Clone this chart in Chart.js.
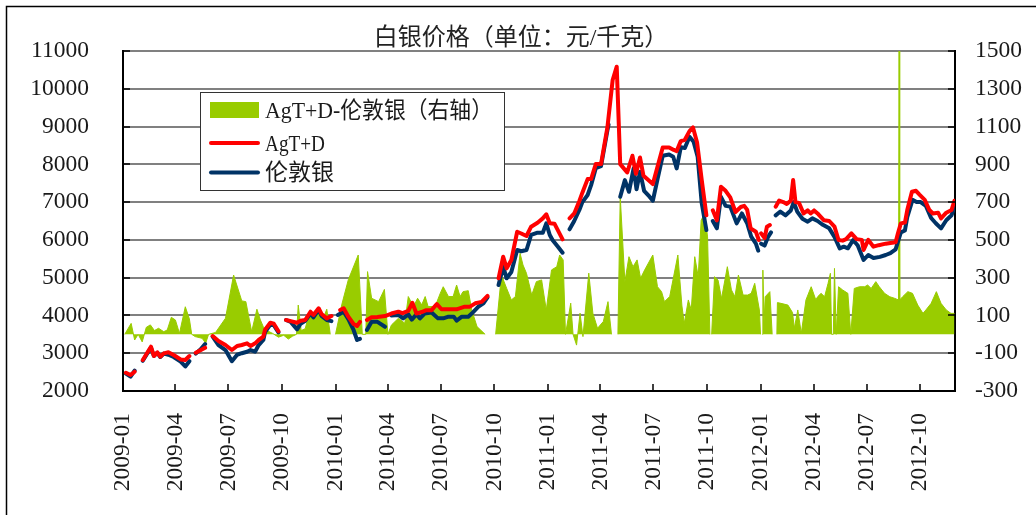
<!DOCTYPE html>
<html><head><meta charset="utf-8">
<script src="https://cdn.jsdelivr.net/npm/chart.js@4.4.1/dist/chart.umd.min.js"></script>
<style>html,body{margin:0;padding:0;background:#fff;}canvas{display:block;}</style>
</head><body>
<canvas id="c" width="1036" height="515"></canvas>
<script>
// ---------- DATA ----------
const chartTitle = '白银价格（单位：元/千克）';
const seriesNames = ['AgT+D-伦敦银（右轴）', 'AgT+D', '伦敦银'];
const xTickLabels = ['2009-01','2009-04','2009-07','2009-10','2010-01','2010-04','2010-07','2010-10',
  '2011-01','2011-04','2011-07','2011-10','2012-01','2012-04','2012-07','2012-10'];
const xStartDate = '2009-01-01';
const xEndDate = '2012-11-30';
const leftTicks = [2000,3000,4000,5000,6000,7000,8000,9000,10000,11000];
const rightTicks = [-300,-100,100,300,500,700,900,1100,1300,1500];

const agtdDates = ['2009-01-06','2009-01-14','2009-01-21','2009-01-28','2009-02-04','2009-02-18','2009-02-23','2009-03-01','2009-03-06','2009-03-12','2009-03-20','2009-03-29','2009-04-10','2009-04-18','2009-04-25','2009-05-01','2009-05-06','2009-05-14','2009-05-22','2009-05-28','2009-06-04','2009-06-14','2009-06-26','2009-07-07','2009-07-16','2009-07-24','2009-08-02','2009-08-08','2009-08-16','2009-08-22','2009-08-30','2009-09-02','2009-09-11','2009-09-17','2009-09-25','2009-10-01','2009-10-08','2009-10-16','2009-10-27','2009-11-02','2009-11-10','2009-11-19','2009-11-24','2009-12-03','2009-12-08','2009-12-17','2009-12-25','2009-12-31','2010-01-09','2010-01-15','2010-01-23','2010-02-01','2010-02-07','2010-02-12','2010-02-18','2010-02-24','2010-03-04','2010-03-14','2010-03-27','2010-04-07','2010-04-19','2010-04-26','2010-05-06','2010-05-13','2010-05-20','2010-05-29','2010-06-06','2010-06-15','2010-06-24','2010-07-02','2010-07-14','2010-07-28','2010-08-11','2010-08-20','2010-08-29','2010-09-09','2010-09-19','2010-09-30','2010-10-08','2010-10-16','2010-10-22','2010-10-30','2010-11-09','2010-11-16','2010-11-25','2010-12-03','2010-12-14','2010-12-23','2010-12-29','2011-01-04','2011-01-12','2011-01-26','2011-02-05','2011-02-07','2011-02-15','2011-02-24','2011-03-01','2011-03-10','2011-03-16','2011-03-24','2011-04-02','2011-04-13','2011-04-22','2011-04-29','2011-05-05','2011-05-17','2011-05-26','2011-06-01','2011-06-08','2011-06-14','2011-06-30','2011-07-17','2011-07-28','2011-08-05','2011-08-10','2011-08-17','2011-08-24','2011-09-01','2011-09-07','2011-09-14','2011-09-22','2011-09-30','2011-10-05','2011-10-11','2011-10-18','2011-10-25','2011-11-02','2011-11-10','2011-11-19','2011-11-28','2011-12-04','2011-12-09','2011-12-15','2011-12-24','2011-12-29','2012-01-01','2012-01-02','2012-01-08','2012-01-12','2012-01-17','2012-01-22','2012-01-27','2012-02-02','2012-02-09','2012-02-15','2012-02-22','2012-02-26','2012-03-01','2012-03-07','2012-03-15','2012-03-22','2012-03-27','2012-04-02','2012-04-08','2012-04-11','2012-04-19','2012-04-28','2012-05-07','2012-05-14','2012-05-21','2012-05-27','2012-06-05','2012-06-14','2012-06-23','2012-06-26','2012-07-04','2012-07-13','2012-07-22','2012-08-03','2012-08-11','2012-08-20','2012-08-24','2012-08-29','2012-09-05','2012-09-09','2012-09-17','2012-09-24','2012-09-30','2012-10-09','2012-10-17','2012-10-23','2012-11-01','2012-11-06','2012-11-15','2012-11-24','2012-11-29'];
const agtdValues = [2484,2424,2511,null,2820,3173,2926,3024,2908,2997,3024,2953,2836,2820,2926,null,3014,3080,3146,null,3456,3323,3217,3085,3191,3217,3262,3191,3262,3350,3437,3620,3808,3780,3580,null,3879,3850,3808,3860,3879,4099,4012,4190,4038,3923,3985,null,4144,4190,3967,3773,3720,3830,null,3879,3950,3960,3985,4050,4100,4060,4120,4337,4050,4090,4140,4140,4303,4163,4163,4163,4232,4232,4321,4360,4515,null,4983,5554,5247,5466,6216,6170,6103,6349,6455,6570,6677,6438,6430,6015,null,6570,6700,7036,7250,7609,7609,8006,8006,8977,10232,10585,8006,7786,8227,7750,8180,7697,7477,8448,8448,8380,8350,8615,8650,8880,8977,8580,7583,6650,null,6782,6517,7406,7300,7124,6737,6870,6900,6800,6306,6216,5997,null,6173,6050,6349,6394,null,6880,7040,7000,6950,7040,7583,7000,6980,6700,6780,6700,6780,6700,6650,6517,6500,6349,5997,5980,6020,6173,6020,6000,5733,6000,5820,5860,5900,5920,5940,6173,6438,6460,6790,7274,7300,7200,7060,6790,6700,6720,6570,6720,6790,7036];

const londonDates = ['2009-01-06','2009-01-14','2009-01-21','2009-01-28','2009-02-04','2009-02-18','2009-02-23','2009-03-01','2009-03-06','2009-03-12','2009-03-20','2009-03-29','2009-04-10','2009-04-18','2009-04-25','2009-05-01','2009-05-06','2009-05-14','2009-05-22','2009-05-28','2009-06-04','2009-06-14','2009-06-26','2009-07-07','2009-07-16','2009-07-24','2009-08-02','2009-08-08','2009-08-16','2009-08-22','2009-08-30','2009-09-02','2009-09-11','2009-09-17','2009-09-25','2009-10-01','2009-10-08','2009-10-16','2009-10-27','2009-11-02','2009-11-10','2009-11-19','2009-11-24','2009-12-03','2009-12-08','2009-12-17','2009-12-25','2009-12-31','2010-01-05','2010-01-15','2010-01-23','2010-02-01','2010-02-07','2010-02-12','2010-02-18','2010-02-24','2010-03-04','2010-03-14','2010-03-27','2010-04-02','2010-04-07','2010-04-19','2010-04-27','2010-05-06','2010-05-12','2010-05-20','2010-05-26','2010-06-03','2010-06-15','2010-06-26','2010-07-05','2010-07-14','2010-07-23','2010-07-28','2010-08-06','2010-08-17','2010-08-23','2010-09-03','2010-09-12','2010-09-19','2010-09-30','2010-10-08','2010-10-16','2010-10-22','2010-10-30','2010-11-09','2010-11-16','2010-11-25','2010-12-03','2010-12-14','2010-12-23','2010-12-29','2011-01-04','2011-01-09','2011-01-18','2011-01-26','2011-02-05','2011-02-07','2011-02-15','2011-02-24','2011-03-01','2011-03-10','2011-03-16','2011-03-24','2011-04-02','2011-04-13','2011-04-15','2011-04-25','2011-05-05','2011-05-13','2011-05-20','2011-05-28','2011-06-02','2011-06-08','2011-06-15','2011-06-24','2011-06-30','2011-07-08','2011-07-17','2011-07-28','2011-08-04','2011-08-10','2011-08-17','2011-08-24','2011-09-01','2011-09-08','2011-09-15','2011-09-22','2011-09-30','2011-10-05','2011-10-11','2011-10-18','2011-10-25','2011-11-02','2011-11-10','2011-11-21','2011-11-30','2011-12-09','2011-12-16','2011-12-24','2011-12-28','2011-12-31','2012-01-02','2012-01-08','2012-01-14','2012-01-19','2012-01-22','2012-01-27','2012-02-04','2012-02-13','2012-02-22','2012-02-27','2012-03-04','2012-03-13','2012-03-22','2012-03-30','2012-04-08','2012-04-17','2012-04-28','2012-05-07','2012-05-16','2012-05-23','2012-05-30','2012-06-08','2012-06-16','2012-06-26','2012-07-04','2012-07-13','2012-07-24','2012-08-03','2012-08-11','2012-08-20','2012-08-23','2012-08-29','2012-09-05','2012-09-09','2012-09-18','2012-09-25','2012-10-02','2012-10-11','2012-10-20','2012-10-28','2012-11-06','2012-11-15','2012-11-24','2012-11-29'];
const londonValues = [2460,2380,2540,null,2800,3150,2930,3010,2900,2990,2960,2900,2780,2650,2790,null,2990,3100,3244,null,3440,3217,3085,2790,2960,3000,3040,3085,3041,3217,3350,3560,3760,3740,3550,null,3879,3830,3632,3780,3860,4050,3950,4150,3990,3880,3850,null,4012,4100,3900,3615,3350,3380,null,3615,3830,3830,3700,null,4000,4012,3920,4030,3890,4030,3920,4050,4080,3923,3923,3967,3967,3862,3967,3967,4050,4230,4320,4480,null,4806,5290,4983,5150,5733,5700,5733,6130,6190,6190,6438,6130,5990,5820,5660,null,6280,6500,6800,7000,7188,7450,7900,7950,8900,9050,null,7142,7583,7274,7893,7340,7805,7300,7150,7036,7600,8227,8260,8200,7893,8450,8430,8730,8600,8200,6970,6260,null,6500,6306,7140,6900,6880,6438,6700,6440,6085,5900,5714,null,5900,5850,6080,6200,null,6650,6750,6650,6780,7000,6750,6560,6482,6570,6500,6400,6306,6080,5777,5820,5777,5997,5850,5468,5600,5520,5550,5600,5650,5750,5900,6200,6250,6600,7060,7000,7000,6900,6580,6440,6306,6520,6650,6880];

const spreadDates = ['2009-01-04','2009-01-15','2009-01-21','2009-01-27','2009-02-03','2009-02-10','2009-02-17','2009-02-24','2009-03-03','2009-03-12','2009-03-18','2009-03-25','2009-04-01','2009-04-08','2009-04-18','2009-04-25','2009-04-29','2009-05-05','2009-05-17','2009-05-23','2009-05-28','2009-06-09','2009-06-26','2009-07-10','2009-07-24','2009-07-31','2009-08-10','2009-08-19','2009-08-25','2009-08-30','2009-09-05','2009-09-15','2009-09-25','2009-10-04','2009-10-12','2009-10-19','2009-10-26','2009-10-29','2009-11-03','2009-11-10','2009-11-16','2009-11-24','2009-12-03','2009-12-11','2009-12-17','2009-12-23','2009-12-28','2010-01-01','2010-01-12','2010-01-23','2010-02-09','2010-02-16','2010-02-22','2010-02-25','2010-03-04','2010-03-16','2010-03-26','2010-04-01','2010-04-07','2010-04-19','2010-04-30','2010-05-06','2010-05-15','2010-05-22','2010-05-29','2010-06-04','2010-06-09','2010-06-21','2010-06-30','2010-07-05','2010-07-14','2010-07-22','2010-07-28','2010-08-03','2010-08-08','2010-08-17','2010-08-23','2010-09-01','2010-09-15','2010-09-25','2010-10-03','2010-10-13','2010-10-22','2010-10-30','2010-11-06','2010-11-14','2010-11-19','2010-11-25','2010-12-04','2010-12-12','2010-12-21','2010-12-29','2011-01-07','2011-01-16','2011-01-21','2011-01-27','2011-01-31','2011-02-09','2011-02-13','2011-02-19','2011-02-25','2011-03-02','2011-03-12','2011-03-19','2011-03-27','2011-04-06','2011-04-14','2011-04-20','2011-04-24','2011-05-01','2011-05-05','2011-05-13','2011-05-20','2011-05-27','2011-06-03','2011-06-09','2011-06-16','2011-06-30','2011-07-08','2011-07-15','2011-07-20','2011-07-29','2011-08-12','2011-08-19','2011-08-23','2011-08-30','2011-09-04','2011-09-10','2011-09-16','2011-09-21','2011-09-27','2011-10-02','2011-10-06','2011-10-07','2011-10-09','2011-10-14','2011-10-20','2011-10-26','2011-11-05','2011-11-12','2011-11-18','2011-11-24','2011-12-02','2011-12-10','2011-12-16','2011-12-22','2011-12-30','2012-01-01','2012-01-02','2012-01-04','2012-01-05','2012-01-07','2012-01-09','2012-01-17','2012-01-21','2012-01-24','2012-01-29','2012-01-30','2012-02-05','2012-02-17','2012-02-25','2012-02-28','2012-03-05','2012-03-11','2012-03-19','2012-03-28','2012-04-05','2012-04-08','2012-04-14','2012-04-20','2012-04-26','2012-04-30','2012-05-02','2012-05-05','2012-05-07','2012-05-10','2012-05-14','2012-05-21','2012-05-30','2012-06-04','2012-06-10','2012-06-19','2012-06-28','2012-07-03','2012-07-09','2012-07-17','2012-07-23','2012-08-01','2012-08-10','2012-08-18','2012-08-25','2012-08-26','2012-08-27','2012-09-01','2012-09-10','2012-09-18','2012-09-27','2012-10-06','2012-10-11','2012-10-20','2012-10-29','2012-11-06','2012-11-15','2012-11-23','2012-11-29'];
const spreadValues = [0,58,-30,0,-40,37,50,20,32,14,23,90,76,5,146,82,0,-12,-21,-47,0,10,85,314,177,173,14,133,76,40,20,5,-15,-5,-25,-10,0,155,20,30,102,90,110,85,133,0,null,0,160,289,420,0,0,332,191,173,238,0,49,85,59,200,147,191,156,200,147,147,218,252,200,200,261,200,226,231,129,41,0,null,0,314,243,182,200,429,367,323,208,279,288,129,341,358,420,394,0,165,0,-57,112,-12,324,112,32,68,173,0,null,0,729,279,411,358,394,297,341,420,252,226,173,200,420,150,58,182,129,411,305,604,640,516,0,null,0,305,287,190,358,235,199,314,208,208,217,270,129,0,null,0,340,60,199,226,0,null,0,168,164,155,115,32,129,5,182,252,182,199,217,199,270,323,0,0,349,0,252,235,217,0,243,252,252,261,243,279,252,217,199,191,182,1500,182,199,226,217,155,111,129,164,226,164,129,111,111];

// ---------- HELPERS ----------
function dayOf(s){ const p=s.split('-').map(Number); return (Date.UTC(p[0],p[1]-1,p[2]||1)-Date.UTC(2009,0,1))/86400000; }
function pts(dates, vals){ return dates.map((d,i)=>({x:dayOf(d), y:vals[i]})); }
const xTickDays = xTickLabels.map(l=>dayOf(l+'-01'));
const FAMILY = "'Liberation Serif', 'Noto Sans CJK SC', serif";
const TXT = '#1a1a1a';

const decor = {
  id:'decor',
  beforeDraw(chart){
    const c=chart.ctx; c.save(); c.fillStyle='#fff'; c.fillRect(0,0,chart.width,chart.height); c.restore();
  },
  afterDraw(chart){
    const c=chart.ctx, a=chart.chartArea;
    const sx=chart.scales.x, sy=chart.scales.y;
    c.save();
    c.strokeStyle='#000'; c.lineWidth=1.5;
    c.beginPath();
    leftTicks.forEach(v=>{ const y=Math.round(sy.getPixelForValue(v)); c.moveTo(a.left,y); c.lineTo(a.left+7,y); c.moveTo(a.right-7,y); c.lineTo(a.right,y); });
    xTickDays.forEach(d=>{ const x=Math.round(sx.getPixelForValue(d)); c.moveTo(x,a.bottom); c.lineTo(x,a.bottom-7); });
    c.stroke();
    c.strokeStyle='#000'; c.lineWidth=1.5;
    c.strokeRect(6.5,6.5,1100,600);
    c.fillStyle='#222'; c.font="24px "+FAMILY; c.textAlign='center'; c.textBaseline='middle';
    c.fillText(chartTitle, 521, 39);
    c.fillStyle='#fff'; c.fillRect(200.5,92.5,304,98);
    c.strokeStyle='#333'; c.lineWidth=1; c.strokeRect(200.5,92.5,304,98);
    c.fillStyle='#99CC00'; c.fillRect(210,102,49,16);
    c.lineCap='round'; c.lineWidth=4;
    c.strokeStyle='#FF0000'; c.beginPath(); c.moveTo(211,143); c.lineTo(258,143); c.stroke();
    c.strokeStyle='#003366'; c.beginPath(); c.moveTo(211,172.5); c.lineTo(258,172.5); c.stroke();
    c.fillStyle=TXT; c.font="23px "+FAMILY; c.textAlign='left'; c.textBaseline='middle';
    c.fillText(seriesNames[0], 265, 112, 228);
    c.fillText(seriesNames[1], 265, 145, 60);
    c.fillText(seriesNames[2], 265, 174, 72);
    c.restore();
  }
};

new Chart(document.getElementById('c'), {
  type:'line',
  data:{ datasets:[
    { label:seriesNames[1], data:pts(agtdDates,agtdValues), yAxisID:'y', borderColor:'#FF0000', borderWidth:4, pointRadius:0, tension:0, spanGaps:false, order:1, borderJoinStyle:'round', borderCapStyle:'round' },
    { label:seriesNames[2], data:pts(londonDates,londonValues), yAxisID:'y', borderColor:'#003366', borderWidth:4, pointRadius:0, tension:0, spanGaps:false, order:2, borderJoinStyle:'round', borderCapStyle:'round' },
    { label:seriesNames[0], data:pts(spreadDates,spreadValues), yAxisID:'y1', borderColor:'#99CC00', backgroundColor:'#99CC00', borderWidth:1, pointRadius:0, tension:0, fill:'origin', spanGaps:false, order:3 }
  ]},
  options:{
    responsive:false, animation:false, devicePixelRatio:1,
    layout:{ padding:{ top:51, left:0, right:0, bottom:0 } },
    plugins:{ legend:{display:false}, title:{display:false}, tooltip:{enabled:false} },
    scales:{
      x:{ type:'linear', min:dayOf(xStartDate), max:dayOf(xEndDate),
        afterBuildTicks(s){ s.ticks = xTickDays.map(v=>({value:v})); },
        afterFit(s){ s.height = 124; },
        grid:{ display:false, drawTicks:false },
        border:{ display:true, color:'#000', width:2 },
        ticks:{ autoSkip:false, maxRotation:90, minRotation:90, padding:22, color:TXT,
          font:{ family:FAMILY, size:23.5 },
          callback(v){ const i=xTickDays.indexOf(v); return i>=0 ? xTickLabels[i] : ''; } } },
      y:{ type:'linear', position:'left', min:2000, max:11000,
        afterBuildTicks(s){ s.ticks = leftTicks.map(v=>({value:v})); },
        afterFit(s){ s.width = 123; },
        grid:{ color:'#808080', lineWidth:2, drawTicks:false },
        border:{ display:true, color:'#000', width:2 },
        ticks:{ padding:34, color:TXT, font:{ family:FAMILY, size:23.5 }, callback:v=>String(v) } },
      y1:{ type:'linear', position:'right', min:-300, max:1500,
        afterBuildTicks(s){ s.ticks = rightTicks.map(v=>({value:v})); },
        afterFit(s){ s.width = 81; },
        grid:{ display:false, drawTicks:false },
        border:{ display:true, color:'#000', width:2 },
        ticks:{ padding:20, color:TXT, font:{ family:FAMILY, size:23.5 }, callback:v=>String(v) } }
    }
  },
  plugins:[decor]
});
</script></body></html>
